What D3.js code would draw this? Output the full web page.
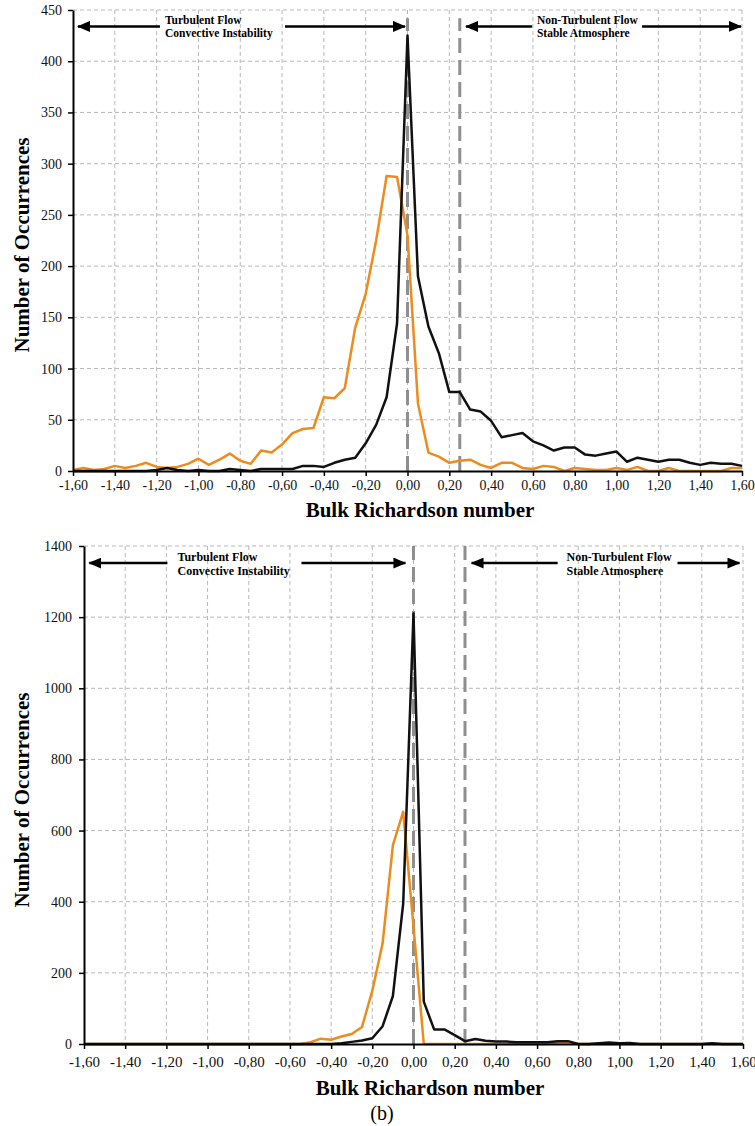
<!DOCTYPE html>
<html>
<head>
<meta charset="utf-8">
<script src="https://cdn.jsdelivr.net/npm/d3@7"></script>
<style>
  body { margin: 0; background: #fff; }
  text { font-family: "Liberation Serif", "Times New Roman", serif; }
</style>
</head>
<body>
<div id="chart"></div>
<script>
// bin centres of the Richardson number histogram
var bins = [-1.60, -1.55, -1.50, -1.45, -1.40, -1.35, -1.30, -1.25, -1.20, -1.15, -1.10,
  -1.05, -1.00, -0.95, -0.90, -0.85, -0.80, -0.75, -0.70, -0.65, -0.60, -0.55, -0.50,
  -0.45, -0.40, -0.35, -0.30, -0.25, -0.20, -0.15, -0.10, -0.05, 0.00, 0.05, 0.10,
  0.15, 0.20, 0.25, 0.30, 0.35, 0.40, 0.45, 0.50, 0.55, 0.60, 0.65, 0.70, 0.75, 0.80,
  0.85, 0.90, 0.95, 1.00, 1.05, 1.10, 1.15, 1.20, 1.25, 1.30, 1.35, 1.40, 1.45, 1.50,
  1.55, 1.60];

var xTicks = [-1.6, -1.4, -1.2, -1.0, -0.8, -0.6, -0.4, -0.2, 0, 0.2, 0.4, 0.6, 0.8, 1.0, 1.2, 1.4, 1.6];
var xLabels = ["-1,60", "-1,40", "-1,20", "-1,00", "-0,80", "-0,60", "-0,40", "-0,20", "0,00",
  "0,20", "0,40", "0,60", "0,80", "1,00", "1,20", "1,40", "1,60"];

// panel (a)
var yTicksA = [0, 50, 100, 150, 200, 250, 300, 350, 400, 450];
var orangeA = [1, 3, 1, 2, 5, 3, 5, 8, 4, 3, 4, 7, 12, 6, 11, 17, 10, 7, 20, 18, 26, 37, 41,
  42, 72, 71, 81, 140, 173, 225, 288, 287, 230, 66, 18, 14, 8, 10, 11, 6, 3, 8, 8, 3, 2,
  5, 4, 0, 3, 2, 1, 1, 3, 1, 4, 0, 0, 3, 0, 0, 0, 0, 0, 3, 3];
var blackA = [0, 0, 0, 0, 0, 0, 0, 0, 1, 3, 1, 0, 1, 0, 0, 2, 1, 0, 2, 2, 2, 2, 5,
  5, 4, 8, 11, 13, 27, 45, 72, 144, 425, 190, 141, 115, 77, 77, 60, 58, 49, 33, 35, 37, 29,
  25, 20, 23, 23, 16, 15, 17, 19, 9, 13, 11, 9, 11, 11, 8, 6, 8, 7, 7, 5];

// panel (b)
var yTicksB = [0, 200, 400, 600, 800, 1000, 1200, 1400];
var orangeB = [0, 0, 0, 0, 0, 0, 0, 0, 0, 0, 0, 0, 0, 0, 0, 0, 0, 0, 0, 0, 0, 0, 5,
  15, 12, 21, 28, 48, 150, 283, 559, 653, 330, 0, 0, 0, 0, 0, 0, 0, 0, 0, 0, 0, 0,
  0, 4, 5, 0, 0, 0, 0, 0, 0, 0, 0, 0, 0, 0, 0, 0, 0, 0, 0, 0];
var blackB = [0, 0, 0, 0, 0, 0, 0, 0, 0, 0, 0, 0, 0, 0, 0, 0, 0, 0, 0, 0, 0, 0, 0,
  0, 0, 2, 6, 10, 16, 50, 135, 395, 1210, 119, 41, 41, 25, 8, 14, 9, 7, 7, 5, 5, 5,
  5, 8, 8, 0, 0, 2, 4, 2, 3, 0, 0, 0, 0, 0, 0, 0, 2, 0, 0, 0];

var regimeLines = [0, 0.25];

var serif = '"Liberation Serif", "Times New Roman", serif';

var svg = d3.select("#chart").append("svg")
    .attr("width", 755)
    .attr("height", 1126);

// arrow head marker
svg.append("defs").append("marker")
    .attr("id", "head")
    .attr("markerUnits", "userSpaceOnUse")
    .attr("markerWidth", 13)
    .attr("markerHeight", 11)
    .attr("refX", 12)
    .attr("refY", 5.5)
    .attr("orient", "auto-start-reverse")
  .append("path")
    .attr("d", "M0,0 L13,5.5 L0,11 Z")
    .attr("fill", "#000");

function drawChart(c) {
  var g = svg.append("g")
      .attr("transform", "translate(" + c.left + "," + c.top + ")");

  var x = d3.scaleLinear().domain([-1.6, 1.6]).range([0, c.width]);
  var y = d3.scaleLinear().domain([0, c.yMax]).range([c.height, 0]);

  // grid
  g.selectAll(".hgrid").data(c.yTicks.slice(1)).enter().append("line")
      .attr("x1", 0).attr("x2", c.width)
      .attr("y1", function(d) { return y(d); })
      .attr("y2", function(d) { return y(d); })
      .style("stroke", "#b8b8b8").style("stroke-dasharray", "4,3");
  g.selectAll(".vgrid").data(xTicks.slice(1)).enter().append("line")
      .attr("y1", 0).attr("y2", c.height)
      .attr("x1", function(d) { return x(d); })
      .attr("x2", function(d) { return x(d); })
      .style("stroke", "#b8b8b8").style("stroke-dasharray", "4,3");

  // Ri = 0 and Ri = 0.25
  g.selectAll(".regime").data(regimeLines).enter().append("line")
      .attr("x1", function(d) { return x(d); })
      .attr("x2", function(d) { return x(d); })
      .attr("y1", y(0))
      .attr("y2", y(c.markTop))
      .style("stroke", "#8f8f8f")
      .style("stroke-width", 3)
      .style("stroke-dasharray", "15,7");

  var line = function(vals) {
    return d3.line()
      .x(function(d, i) { return x(bins[i]); })
      .y(function(d) { return y(d); })(vals);
  };

  g.append("path")
      .attr("d", line(c.orange))
      .style("fill", "none")
      .style("stroke", "#ec8c1c")
      .style("stroke-width", 2.5)
      .style("stroke-linejoin", "round");

  g.append("path")
      .attr("d", line(c.black))
      .style("fill", "none")
      .style("stroke", "#111")
      .style("stroke-width", 2.5)
      .style("stroke-linejoin", "round");

  // axes
  var yAxis = g.append("g")
      .call(d3.axisLeft(y).tickValues(c.yTicks).tickSize(5).tickSizeOuter(0).tickPadding(c.yPad)
        .tickFormat(d3.format("d")));
  var xAxis = g.append("g")
      .attr("transform", "translate(0," + c.height + ")")
      .call(d3.axisBottom(x).tickValues(xTicks).tickSize(5).tickSizeOuter(0).tickPadding(c.xPad)
        .tickFormat(function(d, i) { return xLabels[i]; }));
  [yAxis, xAxis].forEach(function(a) {
    a.attr("font-family", serif);
    a.select(".domain").style("stroke", "#000").style("stroke-width", 2);
    a.selectAll(".tick line").style("stroke", "#000").style("stroke-width", 1.5);
    a.selectAll("text").style("fill", "#111");
  });
  yAxis.attr("font-size", 14);
  xAxis.attr("font-size", c.xFont);

  // regime annotations
  var ay = y(c.ann.y);
  c.ann.arrows.forEach(function(a) {
    g.append("line")
        .attr("x1", x(a[0])).attr("x2", x(a[1]))
        .attr("y1", ay).attr("y2", ay)
        .style("stroke", "#000")
        .style("stroke-width", 2.5)
        .attr("marker-end", "url(#head)");
  });
  c.ann.texts.forEach(function(t) {
    var txt = g.append("text")
        .attr("x", x(t.x))
        .attr("y", ay)
        .style("font-size", c.ann.size + "px")
        .style("font-weight", "bold");
    txt.append("tspan").attr("x", x(t.x)).attr("dy", -2).text(t.lines[0]);
    txt.append("tspan").attr("x", x(t.x)).attr("dy", c.ann.size + 1.5).text(t.lines[1]);
  });

  // axis titles
  svg.append("text")
      .attr("transform", "translate(" + c.yTitle[0] + "," + c.yTitle[1] + ") rotate(-90)")
      .attr("text-anchor", "middle")
      .style("font-size", "21px")
      .style("font-weight", "bold")
      .text("Number of Occurrences");

  svg.append("text")
      .attr("x", c.xTitle[0])
      .attr("y", c.xTitle[1])
      .attr("text-anchor", "middle")
      .style("font-size", "21px")
      .style("font-weight", "bold")
      .text("Bulk Richardson number");
}

drawChart({
  left: 73, top: 10, width: 669, height: 461,
  yMax: 450, yTicks: yTicksA, markTop: 442,
  orange: orangeA, black: blackA,
  yPad: 6, xPad: 4, xFont: 14,
  yTitle: [29, 245], xTitle: [420, 517],
  ann: {
    y: 434, size: 11.5,
    arrows: [[-1.184, -1.576], [-0.586, -0.012], [0.596, 0.28], [1.122, 1.595]],
    texts: [{x: -1.16, lines: ["Turbulent Flow", "Convective Instability"]},
            {x: 0.619, lines: ["Non-Turbulent Flow", "Stable Atmosphere"]}]
  }
});

drawChart({
  left: 84, top: 546, width: 659, height: 498,
  yMax: 1400, yTicks: yTicksB, markTop: 1400,
  orange: orangeB, black: blackB,
  yPad: 7, xPad: 7, xFont: 15,
  yTitle: [29, 800], xTitle: [430, 1095],
  ann: {
    y: 1352, size: 12,
    arrows: [[-1.195, -1.574], [-0.544, -0.039], [0.70, 0.282], [1.282, 1.583]],
    texts: [{x: -1.146, lines: ["Turbulent Flow", "Convective Instability"]},
            {x: 0.743, lines: ["Non-Turbulent Flow", "Stable Atmosphere"]}]
  }
});

svg.append("text")
    .attr("x", 382)
    .attr("y", 1120)
    .attr("text-anchor", "middle")
    .style("font-size", "20px")
    .text("(b)");
</script>
</body>
</html>
